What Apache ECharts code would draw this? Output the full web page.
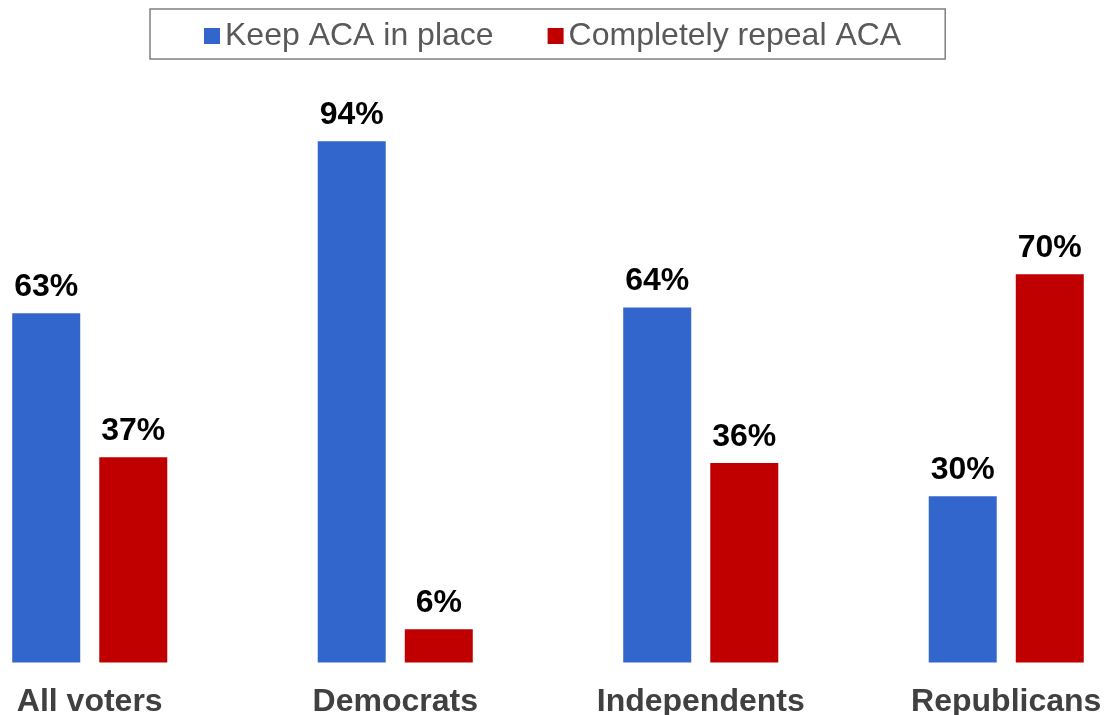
<!DOCTYPE html>
<html>
<head>
<meta charset="utf-8">
<script src="https://cdn.jsdelivr.net/npm/echarts@6/dist/echarts.min.js"></script>
<style>html,body{margin:0;padding:0;background:#fff;overflow:hidden;width:1105px;height:715px;}#c{position:absolute;left:-63px;top:0;width:1222px;height:715px;}</style>
</head>
<body>
<div id="c"></div>
<script>
const categories = ['All voters', 'Democrats', 'Independents', 'Republicans'];
const keepValues = [63, 94, 64, 30];
const repealValues = [37, 6, 36, 70];
const seriesNames = ['Keep ACA in place', 'Completely repeal ACA'];

const chart = echarts.init(document.getElementById('c'));
const labelStyle = {
  show: true, position: 'top', distance: 10,
  formatter: '{c}%', color: '#000', fontWeight: 'bold', fontSize: 32,
  fontFamily: 'Liberation Sans, Arial, sans-serif'
};
chart.setOption({
  animation: false,
  legend: {
    left: 213, top: 9,
    padding: [11, 44, 7, 54],
    borderColor: '#808080', borderWidth: 1.5,
    itemWidth: 16, itemHeight: 16, itemGap: 54,
    icon: 'rect',
    textStyle: { fontSize: 32, color: '#595959', fontFamily: 'Liberation Sans, Arial, sans-serif' },
    data: seriesNames
  },
  grid: { left: 0, right: 0, top: 108, bottom: 52.5, containLabel: false, outerBoundsMode: 'none' },
  xAxis: {
    type: 'category', data: categories,
    axisLine: { show: false }, axisTick: { show: false },
    axisLabel: { margin: 24, fontSize: 32, fontWeight: 'bold', color: '#404040', fontFamily: 'Liberation Sans, Arial, sans-serif', interval: 0 }
  },
  yAxis: { type: 'value', min: 0, max: 100, show: false, splitLine: { show: false } },
  series: [
    { name: seriesNames[0], type: 'bar', data: keepValues, barWidth: 68, barGap: '28%', itemStyle: { color: '#3366CC' }, label: labelStyle },
    { name: seriesNames[1], type: 'bar', data: repealValues, barWidth: 68, barGap: '28%', itemStyle: { color: '#C00000' }, label: labelStyle }
  ]
});
</script>
</body>
</html>
